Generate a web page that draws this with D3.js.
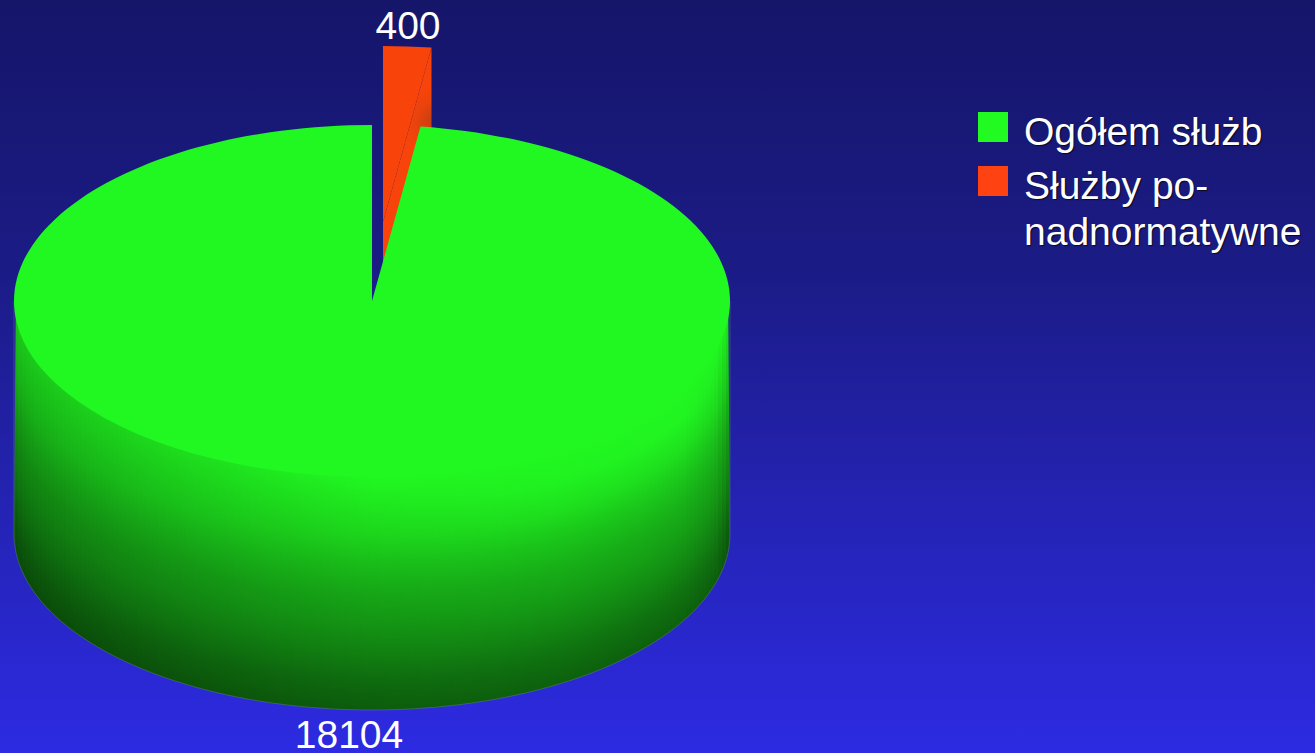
<!DOCTYPE html>
<html><head><meta charset="utf-8">
<script src="https://cdnjs.cloudflare.com/ajax/libs/d3/7.8.5/d3.min.js"></script>
<style>html,body{margin:0;padding:0;overflow:hidden;background:#1a1a78}svg{display:block}
text{font-family:"Liberation Sans",Arial,sans-serif;fill:#fff}</style></head>
<body><svg id="c" width="1315" height="753"></svg>
<script>
const categories = ["Ogółem służb", "Służby po-nadnormatywne"];
const values = [18104, 400];
const legendLines = [["Ogółem służb"], ["Służby po-", "nadnormatywne"]];
const colors = ["#21f721", "#f8430a"];
const legendColors = ["#22fb22", "#ff4211"];

const W = 1315, H = 753;
const cx = 372, cy = 301, rx = 358, ry = 176, depth = 233;
const explode = {dx: 11, dy: -79};
const svg = d3.select("#c");
const defs = svg.append("defs");

function grad(id, x1, y1, x2, y2, stops) {
  const g = defs.append("linearGradient").attr("id", id).attr("gradientUnits", "userSpaceOnUse")
    .attr("x1", x1).attr("y1", y1).attr("x2", x2).attr("y2", y2);
  stops.forEach(s => g.append("stop").attr("offset", s[0]).attr("stop-color", s[1]));
}
grad("bg", 0, 0, 0, H, [[0, "#15156a"], [0.35, "#1b1b85"], [1, "#2d2be2"]]);
const redGlow = defs.append("radialGradient").attr("id", "redWall").attr("gradientUnits", "userSpaceOnUse")
  .attr("cx", 436).attr("cy", 122).attr("r", 34);
[[0, "#bf3e12"], [0.6, "#ea430d"], [1, colors[1]]].forEach(s =>
  redGlow.append("stop").attr("offset", s[0]).attr("stop-color", s[1]));

svg.append("rect").attr("width", W).attr("height", H).attr("fill", "url(#bg)");

const total = d3.sum(values);
const gap = 2 * Math.PI * values[1] / total;
const pie = d3.pie().sort(null).startAngle(gap).endAngle(2 * Math.PI + gap);
const arcs = pie(values);
const green = arcs[0], red = arcs[1];
const arc = d3.arc().innerRadius(0).outerRadius(rx);
const px = a => rx * Math.sin(a);
const py = a => -ry * Math.cos(a);

// exploded slice: cut face, then its top face
const ox = cx + explode.dx, oy = cy + explode.dy;
const a1 = red.endAngle - 2 * Math.PI;
svg.append("path")
  .attr("d", d3.line()([[ox, oy], [ox + px(a1), oy + py(a1)], [ox + px(a1), oy + py(a1) + depth], [ox, oy + depth]]))
  .attr("fill", "url(#redWall)");
svg.append("path").datum(red)
  .attr("transform", `translate(${ox},${oy}) scale(1,${ry / rx})`)
  .attr("d", arc).attr("fill", colors[1]);

// wall of the main slice, shaded strip by strip (upper edge tucked under the top face)
const front = d3.range(0, 181, 2).map(d => (90 + d) * Math.PI / 180);
const wallPts = front.map(a => [cx + px(a) * 0.995, cy + py(a) * 0.98])
  .concat(front.slice().reverse().map(a => [cx + px(a), cy + py(a) + depth]));
const wallPath = d3.line()(wallPts) + "Z";
defs.append("clipPath").attr("id", "wallClip").append("path").attr("d", wallPath);
const down = d3.scaleLinear().domain([0, .24, .45, .67, .88, 1]).range([1, .87, .7, .58, .43, .37]);
const across = d3.scaleLinear().domain([-1, -.94, -.87, -.5, 0, .5, .87, .96, 1]).range([.8, .82, .83, .9, 1, 1.05, 1.06, 1.02, .9]);
const base = d3.rgb(colors[0]);
const tone = t => {
  const k = Math.min(t, 1);
  return d3.rgb(base.r * k, base.g * k, base.b * k).formatHex();
};
const wallG = svg.append("g").attr("clip-path", "url(#wallClip)");
const step = 4;
d3.range(cx - rx, cx + rx, step).forEach((x, i) => {
  const u = (x + step / 2 - cx) / rx;
  const top = cy + ry * Math.sqrt(Math.max(0, 1 - u * u));
  const stops = d3.range(0, 1.01, 0.125).map(v => [v, tone(down(v) * across(u))]);
  grad("strip" + i, 0, top, 0, top + depth, stops);
  wallG.append("rect").attr("x", x).attr("y", cy).attr("width", step + 1).attr("height", H - cy)
    .attr("fill", `url(#strip${i})`);
});
const rim = front.map(a => [cx + px(a), cy + py(a) + depth]);
svg.append("path").attr("d", d3.line()([[cx + rx, cy], ...rim, [cx - rx, cy]]))
  .attr("fill", "none").attr("stroke", "#6c8a80").attr("stroke-width", .7).attr("stroke-opacity", .6);

// top face of the main slice
svg.append("path").datum(green)
  .attr("transform", `translate(${cx},${cy}) scale(1,${ry / rx})`)
  .attr("d", arc).attr("fill", colors[0]);

// value labels
svg.append("text").attr("x", 408).attr("y", 39).attr("text-anchor", "middle")
  .attr("font-size", 39).text(values[1]);
svg.append("text").attr("x", 349).attr("y", 748).attr("text-anchor", "middle")
  .attr("font-size", 39).text(values[0]);

// legend
const rows = [{y: 112, t: 145}, {y: 166, t: 199}];
const lg = svg.append("g");
categories.forEach((c, i) => {
  lg.append("rect").attr("x", 978).attr("y", rows[i].y).attr("width", 30).attr("height", 30).attr("fill", legendColors[i]);
  legendLines[i].forEach((l, j) => {
    lg.append("text").attr("x", 1024).attr("y", rows[i].t + j * 46).attr("font-size", 39)
      .attr("style", "text-shadow:1px 1px 1px rgba(0,0,0,.7)").text(l);
  });
});
</script></body></html>
